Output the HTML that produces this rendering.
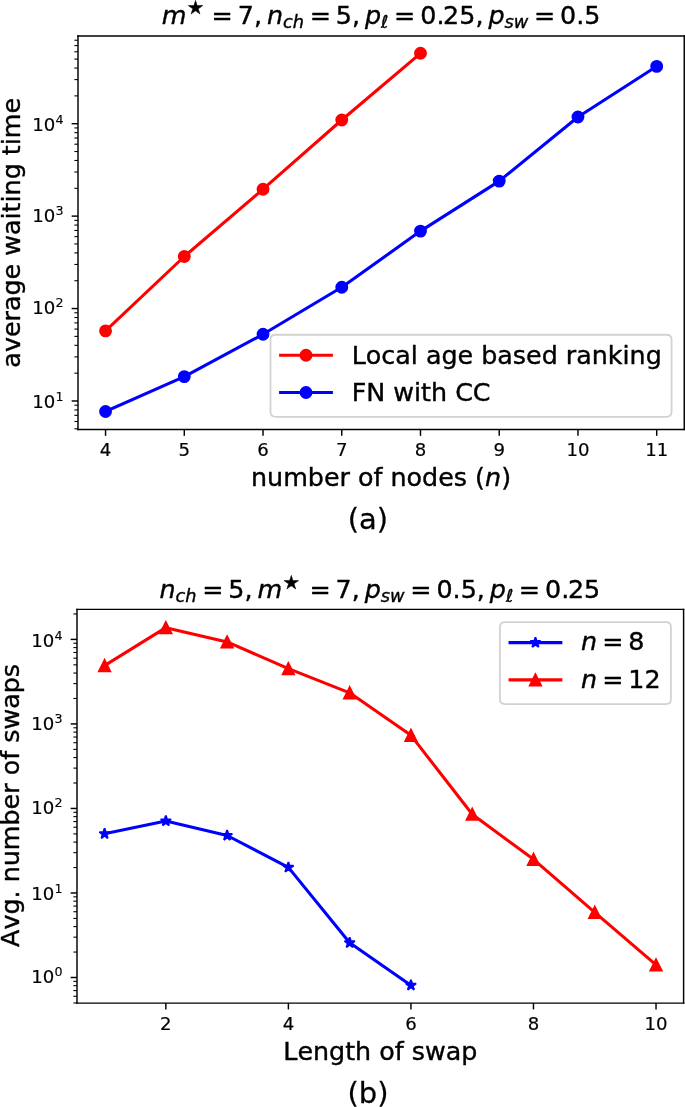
<!DOCTYPE html>
<html><head><meta charset="utf-8"><title>figure</title>
<style>html,body{margin:0;padding:0;background:#fff}svg{display:block}svg *{stroke-linejoin:round;stroke-linecap:butt}text{font-kerning:none;white-space:pre;stroke:#000;stroke-width:0.22px;stroke-linejoin:round}.t10,.t10 tspan{stroke-width:0.1px}.t7{stroke-width:0.07px}.t16{stroke-width:0.14px}</style>
</head><body>
<svg width="685" height="1107" viewBox="0 0 378.03532 610.927152">
<g id="figure_1">
<g id="patch_1">
<path d="M 0 610.927152 
L 378.03532 610.927152 
L 378.03532 0 
L 0 0 
z
" style="fill: #ffffff"/>
</g>
<g id="axes_1">
<g id="patch_2">
<path d="M 43.046358 237.030905 
L 377.621413 237.030905 
L 377.621413 19.895143 
L 43.046358 19.895143 
z
" style="fill: #ffffff"/>
</g>
<g id="matplotlib.axis_1">
<g id="xtick_1">
<g id="line2d_1">
<g>
<path d="M 0 0 L 0 3.5" transform="translate(58.254315 237.030905)" style="stroke: #000000; stroke-width: 0.8"/>
</g>
</g>
<g id="text_1">
<text class="t10" style="font-size: 10px; font-family: 'DejaVu Sans', sans-serif; text-anchor: middle" x="58.254315" y="251.629343">4</text>
</g>
</g>
<g id="xtick_2">
<g id="line2d_2">
<g>
<path d="M 0 0 L 0 3.5" transform="translate(101.705621 237.030905)" style="stroke: #000000; stroke-width: 0.8"/>
</g>
</g>
<g id="text_2">
<text class="t10" style="font-size: 10px; font-family: 'DejaVu Sans', sans-serif; text-anchor: middle" x="101.705621" y="251.629343">5</text>
</g>
</g>
<g id="xtick_3">
<g id="line2d_3">
<g>
<path d="M 0 0 L 0 3.5" transform="translate(145.156926 237.030905)" style="stroke: #000000; stroke-width: 0.8"/>
</g>
</g>
<g id="text_3">
<text class="t10" style="font-size: 10px; font-family: 'DejaVu Sans', sans-serif; text-anchor: middle" x="145.156926" y="251.629343">6</text>
</g>
</g>
<g id="xtick_4">
<g id="line2d_4">
<g>
<path d="M 0 0 L 0 3.5" transform="translate(188.608232 237.030905)" style="stroke: #000000; stroke-width: 0.8"/>
</g>
</g>
<g id="text_4">
<text class="t10" style="font-size: 10px; font-family: 'DejaVu Sans', sans-serif; text-anchor: middle" x="188.608232" y="251.629343">7</text>
</g>
</g>
<g id="xtick_5">
<g id="line2d_5">
<g>
<path d="M 0 0 L 0 3.5" transform="translate(232.059538 237.030905)" style="stroke: #000000; stroke-width: 0.8"/>
</g>
</g>
<g id="text_5">
<text class="t10" style="font-size: 10px; font-family: 'DejaVu Sans', sans-serif; text-anchor: middle" x="232.059538" y="251.629343">8</text>
</g>
</g>
<g id="xtick_6">
<g id="line2d_6">
<g>
<path d="M 0 0 L 0 3.5" transform="translate(275.510844 237.030905)" style="stroke: #000000; stroke-width: 0.8"/>
</g>
</g>
<g id="text_6">
<text class="t10" style="font-size: 10px; font-family: 'DejaVu Sans', sans-serif; text-anchor: middle" x="275.510844" y="251.629343">9</text>
</g>
</g>
<g id="xtick_7">
<g id="line2d_7">
<g>
<path d="M 0 0 L 0 3.5" transform="translate(318.96215 237.030905)" style="stroke: #000000; stroke-width: 0.8"/>
</g>
</g>
<g id="text_7">
<text class="t10" style="font-size: 10px; font-family: 'DejaVu Sans', sans-serif; text-anchor: middle" x="318.96215" y="251.629343">10</text>
</g>
</g>
<g id="xtick_8">
<g id="line2d_8">
<g>
<path d="M 0 0 L 0 3.5" transform="translate(362.413456 237.030905)" style="stroke: #000000; stroke-width: 0.8"/>
</g>
</g>
<g id="text_8">
<text class="t10" style="font-size: 10px; font-family: 'DejaVu Sans', sans-serif; text-anchor: middle" x="362.413456" y="251.629343">11</text>
</g>
</g>
<g id="text_9">
<g transform="translate(138.513885 268.346843)">
<text><tspan x="0.000" y="-0.359" style="font-size: 14px; font-family: 'DejaVu Sans', sans-serif">number of nodes (</tspan><tspan x="129.179" y="-0.359" style="font-style: oblique; font-size: 14px; font-family: 'DejaVu Sans', sans-serif">n</tspan><tspan x="138.052" y="-0.359" style="font-size: 14px; font-family: 'DejaVu Sans', sans-serif">)</tspan></text>
</g>
</g>
</g>
<g id="matplotlib.axis_2">
<g id="ytick_1">
<g id="line2d_9">
<g>
<path d="M 0 0 L -3.5 0" transform="translate(43.046358 221.296909)" style="stroke: #000000; stroke-width: 0.8"/>
</g>
</g>
<g id="text_10">
<g transform="translate(17.746358 225.426128)">
<text><tspan class="t10" x="0.000" y="-0.064" style="font-size: 10px; font-family: 'DejaVu Sans', sans-serif">10</tspan><tspan class="t7" x="12.820" y="-3.892" style="font-size: 7px; font-family: 'DejaVu Sans', sans-serif">1</tspan></text>
</g>
</g>
</g>
<g id="ytick_2">
<g id="line2d_10">
<g>
<path d="M 0 0 L -3.5 0" transform="translate(43.046358 170.286976)" style="stroke: #000000; stroke-width: 0.8"/>
</g>
</g>
<g id="text_11">
<g transform="translate(17.746358 174.416194)">
<text><tspan class="t10" x="0.000" y="-0.977" style="font-size: 10px; font-family: 'DejaVu Sans', sans-serif">10</tspan><tspan class="t7" x="12.820" y="-4.805" style="font-size: 7px; font-family: 'DejaVu Sans', sans-serif">2</tspan></text>
</g>
</g>
</g>
<g id="ytick_3">
<g id="line2d_11">
<g>
<path d="M 0 0 L -3.5 0" transform="translate(43.046358 119.277042)" style="stroke: #000000; stroke-width: 0.8"/>
</g>
</g>
<g id="text_12">
<g transform="translate(17.746358 123.406261)">
<text><tspan class="t10" x="0.000" y="-0.977" style="font-size: 10px; font-family: 'DejaVu Sans', sans-serif">10</tspan><tspan class="t7" x="12.820" y="-4.805" style="font-size: 7px; font-family: 'DejaVu Sans', sans-serif">3</tspan></text>
</g>
</g>
</g>
<g id="ytick_4">
<g id="line2d_12">
<g>
<path d="M 0 0 L -3.5 0" transform="translate(43.046358 68.267108)" style="stroke: #000000; stroke-width: 0.8"/>
</g>
</g>
<g id="text_13">
<g transform="translate(17.746358 72.396327)">
<text><tspan class="t10" x="0.000" y="-0.064" style="font-size: 10px; font-family: 'DejaVu Sans', sans-serif">10</tspan><tspan class="t7" x="12.820" y="-3.892" style="font-size: 7px; font-family: 'DejaVu Sans', sans-serif">4</tspan></text>
</g>
</g>
</g>
<g id="ytick_5">
<g id="line2d_13">
<g>
<path d="M 0 0 L -2 0" transform="translate(43.046358 236.65243)" style="stroke: #000000; stroke-width: 0.6"/>
</g>
</g>
</g>
<g id="ytick_6">
<g id="line2d_14">
<g>
<path d="M 0 0 L -2 0" transform="translate(43.046358 232.6134)" style="stroke: #000000; stroke-width: 0.6"/>
</g>
</g>
</g>
<g id="ytick_7">
<g id="line2d_15">
<g>
<path d="M 0 0 L -2 0" transform="translate(43.046358 229.198448)" style="stroke: #000000; stroke-width: 0.6"/>
</g>
</g>
</g>
<g id="ytick_8">
<g id="line2d_16">
<g>
<path d="M 0 0 L -2 0" transform="translate(43.046358 226.240283)" style="stroke: #000000; stroke-width: 0.6"/>
</g>
</g>
</g>
<g id="ytick_9">
<g id="line2d_17">
<g>
<path d="M 0 0 L -2 0" transform="translate(43.046358 223.630996)" style="stroke: #000000; stroke-width: 0.6"/>
</g>
</g>
</g>
<g id="ytick_10">
<g id="line2d_18">
<g>
<path d="M 0 0 L -2 0" transform="translate(43.046358 205.941389)" style="stroke: #000000; stroke-width: 0.6"/>
</g>
</g>
</g>
<g id="ytick_11">
<g id="line2d_19">
<g>
<path d="M 0 0 L -2 0" transform="translate(43.046358 196.958986)" style="stroke: #000000; stroke-width: 0.6"/>
</g>
</g>
</g>
<g id="ytick_12">
<g id="line2d_20">
<g>
<path d="M 0 0 L -2 0" transform="translate(43.046358 190.585869)" style="stroke: #000000; stroke-width: 0.6"/>
</g>
</g>
</g>
<g id="ytick_13">
<g id="line2d_21">
<g>
<path d="M 0 0 L -2 0" transform="translate(43.046358 185.642496)" style="stroke: #000000; stroke-width: 0.6"/>
</g>
</g>
</g>
<g id="ytick_14">
<g id="line2d_22">
<g>
<path d="M 0 0 L -2 0" transform="translate(43.046358 181.603466)" style="stroke: #000000; stroke-width: 0.6"/>
</g>
</g>
</g>
<g id="ytick_15">
<g id="line2d_23">
<g>
<path d="M 0 0 L -2 0" transform="translate(43.046358 178.188514)" style="stroke: #000000; stroke-width: 0.6"/>
</g>
</g>
</g>
<g id="ytick_16">
<g id="line2d_24">
<g>
<path d="M 0 0 L -2 0" transform="translate(43.046358 175.230349)" style="stroke: #000000; stroke-width: 0.6"/>
</g>
</g>
</g>
<g id="ytick_17">
<g id="line2d_25">
<g>
<path d="M 0 0 L -2 0" transform="translate(43.046358 172.621062)" style="stroke: #000000; stroke-width: 0.6"/>
</g>
</g>
</g>
<g id="ytick_18">
<g id="line2d_26">
<g>
<path d="M 0 0 L -2 0" transform="translate(43.046358 154.931456)" style="stroke: #000000; stroke-width: 0.6"/>
</g>
</g>
</g>
<g id="ytick_19">
<g id="line2d_27">
<g>
<path d="M 0 0 L -2 0" transform="translate(43.046358 145.949052)" style="stroke: #000000; stroke-width: 0.6"/>
</g>
</g>
</g>
<g id="ytick_20">
<g id="line2d_28">
<g>
<path d="M 0 0 L -2 0" transform="translate(43.046358 139.575935)" style="stroke: #000000; stroke-width: 0.6"/>
</g>
</g>
</g>
<g id="ytick_21">
<g id="line2d_29">
<g>
<path d="M 0 0 L -2 0" transform="translate(43.046358 134.632562)" style="stroke: #000000; stroke-width: 0.6"/>
</g>
</g>
</g>
<g id="ytick_22">
<g id="line2d_30">
<g>
<path d="M 0 0 L -2 0" transform="translate(43.046358 130.593532)" style="stroke: #000000; stroke-width: 0.6"/>
</g>
</g>
</g>
<g id="ytick_23">
<g id="line2d_31">
<g>
<path d="M 0 0 L -2 0" transform="translate(43.046358 127.178581)" style="stroke: #000000; stroke-width: 0.6"/>
</g>
</g>
</g>
<g id="ytick_24">
<g id="line2d_32">
<g>
<path d="M 0 0 L -2 0" transform="translate(43.046358 124.220415)" style="stroke: #000000; stroke-width: 0.6"/>
</g>
</g>
</g>
<g id="ytick_25">
<g id="line2d_33">
<g>
<path d="M 0 0 L -2 0" transform="translate(43.046358 121.611129)" style="stroke: #000000; stroke-width: 0.6"/>
</g>
</g>
</g>
<g id="ytick_26">
<g id="line2d_34">
<g>
<path d="M 0 0 L -2 0" transform="translate(43.046358 103.921522)" style="stroke: #000000; stroke-width: 0.6"/>
</g>
</g>
</g>
<g id="ytick_27">
<g id="line2d_35">
<g>
<path d="M 0 0 L -2 0" transform="translate(43.046358 94.939118)" style="stroke: #000000; stroke-width: 0.6"/>
</g>
</g>
</g>
<g id="ytick_28">
<g id="line2d_36">
<g>
<path d="M 0 0 L -2 0" transform="translate(43.046358 88.566002)" style="stroke: #000000; stroke-width: 0.6"/>
</g>
</g>
</g>
<g id="ytick_29">
<g id="line2d_37">
<g>
<path d="M 0 0 L -2 0" transform="translate(43.046358 83.622628)" style="stroke: #000000; stroke-width: 0.6"/>
</g>
</g>
</g>
<g id="ytick_30">
<g id="line2d_38">
<g>
<path d="M 0 0 L -2 0" transform="translate(43.046358 79.583598)" style="stroke: #000000; stroke-width: 0.6"/>
</g>
</g>
</g>
<g id="ytick_31">
<g id="line2d_39">
<g>
<path d="M 0 0 L -2 0" transform="translate(43.046358 76.168647)" style="stroke: #000000; stroke-width: 0.6"/>
</g>
</g>
</g>
<g id="ytick_32">
<g id="line2d_40">
<g>
<path d="M 0 0 L -2 0" transform="translate(43.046358 73.210482)" style="stroke: #000000; stroke-width: 0.6"/>
</g>
</g>
</g>
<g id="ytick_33">
<g id="line2d_41">
<g>
<path d="M 0 0 L -2 0" transform="translate(43.046358 70.601195)" style="stroke: #000000; stroke-width: 0.6"/>
</g>
</g>
</g>
<g id="ytick_34">
<g id="line2d_42">
<g>
<path d="M 0 0 L -2 0" transform="translate(43.046358 52.911588)" style="stroke: #000000; stroke-width: 0.6"/>
</g>
</g>
</g>
<g id="ytick_35">
<g id="line2d_43">
<g>
<path d="M 0 0 L -2 0" transform="translate(43.046358 43.929185)" style="stroke: #000000; stroke-width: 0.6"/>
</g>
</g>
</g>
<g id="ytick_36">
<g id="line2d_44">
<g>
<path d="M 0 0 L -2 0" transform="translate(43.046358 37.556068)" style="stroke: #000000; stroke-width: 0.6"/>
</g>
</g>
</g>
<g id="ytick_37">
<g id="line2d_45">
<g>
<path d="M 0 0 L -2 0" transform="translate(43.046358 32.612695)" style="stroke: #000000; stroke-width: 0.6"/>
</g>
</g>
</g>
<g id="ytick_38">
<g id="line2d_46">
<g>
<path d="M 0 0 L -2 0" transform="translate(43.046358 28.573664)" style="stroke: #000000; stroke-width: 0.6"/>
</g>
</g>
</g>
<g id="ytick_39">
<g id="line2d_47">
<g>
<path d="M 0 0 L -2 0" transform="translate(43.046358 25.158713)" style="stroke: #000000; stroke-width: 0.6"/>
</g>
</g>
</g>
<g id="ytick_40">
<g id="line2d_48">
<g>
<path d="M 0 0 L -2 0" transform="translate(43.046358 22.200548)" style="stroke: #000000; stroke-width: 0.6"/>
</g>
</g>
</g>
<g id="text_14">
<text style="font-size: 14px; font-family: 'DejaVu Sans', sans-serif; text-anchor: middle" x="10.834795" y="128.463024" transform="rotate(-90 10.834795 128.463024)">average waiting time</text>
</g>
</g>
<g id="line2d_49">
<path d="M 58.254315 182.615894 
L 101.705621 141.556291 
L 145.156926 104.415011 
L 188.608232 66.225166 
L 232.059538 29.415011 
" style="fill: none; stroke: #ff0000; stroke-width: 1.7; stroke-linecap: square"/>
<g>
<path d="M 0 3.05 C 0.808869 3.05 1.584719 2.728633 2.156676 2.156676 C 2.728633 1.584719 3.05 0.808869 3.05 0 C 3.05 -0.808869 2.728633 -1.584719 2.156676 -2.156676 C 1.584719 -2.728633 0.808869 -3.05 0 -3.05 C -0.808869 -3.05 -1.584719 -2.728633 -2.156676 -2.156676 C -2.728633 -1.584719 -3.05 -0.808869 -3.05 0 C -3.05 0.808869 -2.728633 1.584719 -2.156676 2.156676 C -1.584719 2.728633 -0.808869 3.05 0 3.05 z" transform="translate(58.254315 182.615894)" style="fill: #ff0000; stroke: #ff0000"/>
<path d="M 0 3.05 C 0.808869 3.05 1.584719 2.728633 2.156676 2.156676 C 2.728633 1.584719 3.05 0.808869 3.05 0 C 3.05 -0.808869 2.728633 -1.584719 2.156676 -2.156676 C 1.584719 -2.728633 0.808869 -3.05 0 -3.05 C -0.808869 -3.05 -1.584719 -2.728633 -2.156676 -2.156676 C -2.728633 -1.584719 -3.05 -0.808869 -3.05 0 C -3.05 0.808869 -2.728633 1.584719 -2.156676 2.156676 C -1.584719 2.728633 -0.808869 3.05 0 3.05 z" transform="translate(101.705621 141.556291)" style="fill: #ff0000; stroke: #ff0000"/>
<path d="M 0 3.05 C 0.808869 3.05 1.584719 2.728633 2.156676 2.156676 C 2.728633 1.584719 3.05 0.808869 3.05 0 C 3.05 -0.808869 2.728633 -1.584719 2.156676 -2.156676 C 1.584719 -2.728633 0.808869 -3.05 0 -3.05 C -0.808869 -3.05 -1.584719 -2.728633 -2.156676 -2.156676 C -2.728633 -1.584719 -3.05 -0.808869 -3.05 0 C -3.05 0.808869 -2.728633 1.584719 -2.156676 2.156676 C -1.584719 2.728633 -0.808869 3.05 0 3.05 z" transform="translate(145.156926 104.415011)" style="fill: #ff0000; stroke: #ff0000"/>
<path d="M 0 3.05 C 0.808869 3.05 1.584719 2.728633 2.156676 2.156676 C 2.728633 1.584719 3.05 0.808869 3.05 0 C 3.05 -0.808869 2.728633 -1.584719 2.156676 -2.156676 C 1.584719 -2.728633 0.808869 -3.05 0 -3.05 C -0.808869 -3.05 -1.584719 -2.728633 -2.156676 -2.156676 C -2.728633 -1.584719 -3.05 -0.808869 -3.05 0 C -3.05 0.808869 -2.728633 1.584719 -2.156676 2.156676 C -1.584719 2.728633 -0.808869 3.05 0 3.05 z" transform="translate(188.608232 66.225166)" style="fill: #ff0000; stroke: #ff0000"/>
<path d="M 0 3.05 C 0.808869 3.05 1.584719 2.728633 2.156676 2.156676 C 2.728633 1.584719 3.05 0.808869 3.05 0 C 3.05 -0.808869 2.728633 -1.584719 2.156676 -2.156676 C 1.584719 -2.728633 0.808869 -3.05 0 -3.05 C -0.808869 -3.05 -1.584719 -2.728633 -2.156676 -2.156676 C -2.728633 -1.584719 -3.05 -0.808869 -3.05 0 C -3.05 0.808869 -2.728633 1.584719 -2.156676 2.156676 C -1.584719 2.728633 -0.808869 3.05 0 3.05 z" transform="translate(232.059538 29.415011)" style="fill: #ff0000; stroke: #ff0000"/>
</g>
</g>
<g id="line2d_50">
<path d="M 58.254315 227.09713 
L 101.705621 207.836645 
L 145.156926 184.492274 
L 188.608232 158.554084 
L 232.059538 127.538631 
L 275.510844 99.944812 
L 318.96215 64.569536 
L 362.413456 36.644592 
" style="fill: none; stroke: #0000ff; stroke-width: 1.7; stroke-linecap: square"/>
<g>
<path d="M 0 3.05 C 0.808869 3.05 1.584719 2.728633 2.156676 2.156676 C 2.728633 1.584719 3.05 0.808869 3.05 0 C 3.05 -0.808869 2.728633 -1.584719 2.156676 -2.156676 C 1.584719 -2.728633 0.808869 -3.05 0 -3.05 C -0.808869 -3.05 -1.584719 -2.728633 -2.156676 -2.156676 C -2.728633 -1.584719 -3.05 -0.808869 -3.05 0 C -3.05 0.808869 -2.728633 1.584719 -2.156676 2.156676 C -1.584719 2.728633 -0.808869 3.05 0 3.05 z" transform="translate(58.254315 227.09713)" style="fill: #0000ff; stroke: #0000ff"/>
<path d="M 0 3.05 C 0.808869 3.05 1.584719 2.728633 2.156676 2.156676 C 2.728633 1.584719 3.05 0.808869 3.05 0 C 3.05 -0.808869 2.728633 -1.584719 2.156676 -2.156676 C 1.584719 -2.728633 0.808869 -3.05 0 -3.05 C -0.808869 -3.05 -1.584719 -2.728633 -2.156676 -2.156676 C -2.728633 -1.584719 -3.05 -0.808869 -3.05 0 C -3.05 0.808869 -2.728633 1.584719 -2.156676 2.156676 C -1.584719 2.728633 -0.808869 3.05 0 3.05 z" transform="translate(101.705621 207.836645)" style="fill: #0000ff; stroke: #0000ff"/>
<path d="M 0 3.05 C 0.808869 3.05 1.584719 2.728633 2.156676 2.156676 C 2.728633 1.584719 3.05 0.808869 3.05 0 C 3.05 -0.808869 2.728633 -1.584719 2.156676 -2.156676 C 1.584719 -2.728633 0.808869 -3.05 0 -3.05 C -0.808869 -3.05 -1.584719 -2.728633 -2.156676 -2.156676 C -2.728633 -1.584719 -3.05 -0.808869 -3.05 0 C -3.05 0.808869 -2.728633 1.584719 -2.156676 2.156676 C -1.584719 2.728633 -0.808869 3.05 0 3.05 z" transform="translate(145.156926 184.492274)" style="fill: #0000ff; stroke: #0000ff"/>
<path d="M 0 3.05 C 0.808869 3.05 1.584719 2.728633 2.156676 2.156676 C 2.728633 1.584719 3.05 0.808869 3.05 0 C 3.05 -0.808869 2.728633 -1.584719 2.156676 -2.156676 C 1.584719 -2.728633 0.808869 -3.05 0 -3.05 C -0.808869 -3.05 -1.584719 -2.728633 -2.156676 -2.156676 C -2.728633 -1.584719 -3.05 -0.808869 -3.05 0 C -3.05 0.808869 -2.728633 1.584719 -2.156676 2.156676 C -1.584719 2.728633 -0.808869 3.05 0 3.05 z" transform="translate(188.608232 158.554084)" style="fill: #0000ff; stroke: #0000ff"/>
<path d="M 0 3.05 C 0.808869 3.05 1.584719 2.728633 2.156676 2.156676 C 2.728633 1.584719 3.05 0.808869 3.05 0 C 3.05 -0.808869 2.728633 -1.584719 2.156676 -2.156676 C 1.584719 -2.728633 0.808869 -3.05 0 -3.05 C -0.808869 -3.05 -1.584719 -2.728633 -2.156676 -2.156676 C -2.728633 -1.584719 -3.05 -0.808869 -3.05 0 C -3.05 0.808869 -2.728633 1.584719 -2.156676 2.156676 C -1.584719 2.728633 -0.808869 3.05 0 3.05 z" transform="translate(232.059538 127.538631)" style="fill: #0000ff; stroke: #0000ff"/>
<path d="M 0 3.05 C 0.808869 3.05 1.584719 2.728633 2.156676 2.156676 C 2.728633 1.584719 3.05 0.808869 3.05 0 C 3.05 -0.808869 2.728633 -1.584719 2.156676 -2.156676 C 1.584719 -2.728633 0.808869 -3.05 0 -3.05 C -0.808869 -3.05 -1.584719 -2.728633 -2.156676 -2.156676 C -2.728633 -1.584719 -3.05 -0.808869 -3.05 0 C -3.05 0.808869 -2.728633 1.584719 -2.156676 2.156676 C -1.584719 2.728633 -0.808869 3.05 0 3.05 z" transform="translate(275.510844 99.944812)" style="fill: #0000ff; stroke: #0000ff"/>
<path d="M 0 3.05 C 0.808869 3.05 1.584719 2.728633 2.156676 2.156676 C 2.728633 1.584719 3.05 0.808869 3.05 0 C 3.05 -0.808869 2.728633 -1.584719 2.156676 -2.156676 C 1.584719 -2.728633 0.808869 -3.05 0 -3.05 C -0.808869 -3.05 -1.584719 -2.728633 -2.156676 -2.156676 C -2.728633 -1.584719 -3.05 -0.808869 -3.05 0 C -3.05 0.808869 -2.728633 1.584719 -2.156676 2.156676 C -1.584719 2.728633 -0.808869 3.05 0 3.05 z" transform="translate(318.96215 64.569536)" style="fill: #0000ff; stroke: #0000ff"/>
<path d="M 0 3.05 C 0.808869 3.05 1.584719 2.728633 2.156676 2.156676 C 2.728633 1.584719 3.05 0.808869 3.05 0 C 3.05 -0.808869 2.728633 -1.584719 2.156676 -2.156676 C 1.584719 -2.728633 0.808869 -3.05 0 -3.05 C -0.808869 -3.05 -1.584719 -2.728633 -2.156676 -2.156676 C -2.728633 -1.584719 -3.05 -0.808869 -3.05 0 C -3.05 0.808869 -2.728633 1.584719 -2.156676 2.156676 C -1.584719 2.728633 -0.808869 3.05 0 3.05 z" transform="translate(362.413456 36.644592)" style="fill: #0000ff; stroke: #0000ff"/>
</g>
</g>
<g id="patch_3">
<path d="M 43.046358 237.030905 
L 43.046358 19.895143 
" style="fill: none; stroke: #000000; stroke-width: 0.8; stroke-linejoin: miter; stroke-linecap: square"/>
</g>
<g id="patch_4">
<path d="M 377.621413 237.030905 
L 377.621413 19.895143 
" style="fill: none; stroke: #000000; stroke-width: 0.8; stroke-linejoin: miter; stroke-linecap: square"/>
</g>
<g id="patch_5">
<path d="M 43.046358 237.030905 
L 377.621413 237.030905 
" style="fill: none; stroke: #000000; stroke-width: 0.8; stroke-linejoin: miter; stroke-linecap: square"/>
</g>
<g id="patch_6">
<path d="M 43.046358 19.895143 
L 377.621413 19.895143 
" style="fill: none; stroke: #000000; stroke-width: 0.8; stroke-linejoin: miter; stroke-linecap: square"/>
</g>
<g id="text_15">
<g transform="translate(89.933885 13.895143)">
<text><tspan x="-0.655" y="-0.553" style="font-style: oblique; font-size: 14px; font-family: 'DejaVu Sans', sans-serif">m</tspan><tspan x="13.334" y="-6.112" style="font-size: 10.5px; font-family: 'DejaVu Sans', sans-serif">★</tspan><tspan x="26.840" y="-0.553" style="font-size: 14px; font-family: 'DejaVu Sans', sans-serif">=</tspan><tspan x="41.298" y="-0.553" style="font-size: 14px; font-family: 'DejaVu Sans', sans-serif">7,</tspan><tspan x="57.383" y="-0.553" style="font-style: oblique; font-size: 14px; font-family: 'DejaVu Sans', sans-serif">n</tspan><tspan x="66.256" y="1.744" style="font-style: oblique; font-size: 9.8px; font-family: 'DejaVu Sans', sans-serif">ch</tspan><tspan x="80.966" y="-0.553" style="font-size: 14px; font-family: 'DejaVu Sans', sans-serif">=</tspan><tspan x="95.424" y="-0.553" style="font-size: 14px; font-family: 'DejaVu Sans', sans-serif">5,</tspan><tspan x="111.509" y="-0.553" style="font-style: oblique; font-size: 14px; font-family: 'DejaVu Sans', sans-serif">p</tspan><tspan x="120.395" y="1.744" style="font-style: oblique; font-size: 9.8px; font-family: 'DejaVu Sans', sans-serif">ℓ</tspan><tspan x="127.554" y="-0.553" style="font-size: 14px; font-family: 'DejaVu Sans', sans-serif">=</tspan><tspan x="142.012" y="-0.553" style="font-size: 14px; font-family: 'DejaVu Sans', sans-serif">0.</tspan><tspan x="154.619" y="-0.553" style="font-size: 14px; font-family: 'DejaVu Sans', sans-serif">25,</tspan><tspan x="179.612" y="-0.553" style="font-style: oblique; font-size: 14px; font-family: 'DejaVu Sans', sans-serif">p</tspan><tspan x="188.498" y="1.744" style="font-style: oblique; font-size: 9.8px; font-family: 'DejaVu Sans', sans-serif">sw</tspan><tspan x="204.730" y="-0.553" style="font-size: 14px; font-family: 'DejaVu Sans', sans-serif">=</tspan><tspan x="219.188" y="-0.553" style="font-size: 14px; font-family: 'DejaVu Sans', sans-serif">0.5</tspan></text>
</g>
</g>
<g id="legend_1">
<g id="patch_7">
<path d="M 152.077038 230.030905 
L 367.821413 230.030905 
Q 370.621413 230.030905 370.621413 227.230905 
L 370.621413 187.532155 
Q 370.621413 184.732155 367.821413 184.732155 
L 152.077038 184.732155 
Q 149.277038 184.732155 149.277038 187.532155 
L 149.277038 227.230905 
Q 149.277038 230.030905 152.077038 230.030905 
z
" style="fill: #ffffff; stroke: #d2d2d2; stroke-linejoin: miter"/>
</g>
<g id="line2d_51">
<path d="M 154.877038 196.069968 
L 168.877038 196.069968 
L 182.877038 196.069968 
" style="fill: none; stroke: #ff0000; stroke-width: 1.7; stroke-linecap: square"/>
<g>
<path d="M 0 3.05 C 0.808869 3.05 1.584719 2.728633 2.156676 2.156676 C 2.728633 1.584719 3.05 0.808869 3.05 0 C 3.05 -0.808869 2.728633 -1.584719 2.156676 -2.156676 C 1.584719 -2.728633 0.808869 -3.05 0 -3.05 C -0.808869 -3.05 -1.584719 -2.728633 -2.156676 -2.156676 C -2.728633 -1.584719 -3.05 -0.808869 -3.05 0 C -3.05 0.808869 -2.728633 1.584719 -2.156676 2.156676 C -1.584719 2.728633 -0.808869 3.05 0 3.05 z" transform="translate(168.877038 196.069968)" style="fill: #ff0000; stroke: #ff0000"/>
</g>
</g>
<g id="text_16">
<text style="font-size: 14px; font-family: 'DejaVu Sans', sans-serif; text-anchor: start" x="194.077038" y="200.969968">Local age based ranking</text>
</g>
<g id="line2d_52">
<path d="M 154.877038 216.619343 
L 168.877038 216.619343 
L 182.877038 216.619343 
" style="fill: none; stroke: #0000ff; stroke-width: 1.7; stroke-linecap: square"/>
<g>
<path d="M 0 3.05 C 0.808869 3.05 1.584719 2.728633 2.156676 2.156676 C 2.728633 1.584719 3.05 0.808869 3.05 0 C 3.05 -0.808869 2.728633 -1.584719 2.156676 -2.156676 C 1.584719 -2.728633 0.808869 -3.05 0 -3.05 C -0.808869 -3.05 -1.584719 -2.728633 -2.156676 -2.156676 C -2.728633 -1.584719 -3.05 -0.808869 -3.05 0 C -3.05 0.808869 -2.728633 1.584719 -2.156676 2.156676 C -1.584719 2.728633 -0.808869 3.05 0 3.05 z" transform="translate(168.877038 216.619343)" style="fill: #0000ff; stroke: #0000ff"/>
</g>
</g>
<g id="text_17">
<text style="font-size: 14px; font-family: 'DejaVu Sans', sans-serif; text-anchor: start" x="194.077038" y="221.519343">FN with CC</text>
</g>
</g>
</g>
<g id="axes_2">
<g id="patch_8">
<path d="M 42.494481 553.587196 
L 377.262693 553.587196 
L 377.262693 336.313466 
L 42.494481 336.313466 
z
" style="fill: #ffffff"/>
</g>
<g id="matplotlib.axis_3">
<g id="xtick_9">
<g id="line2d_53">
<g>
<path d="M 0 0 L 0 3.5" transform="translate(91.526189 553.587196)" style="stroke: #000000; stroke-width: 0.8"/>
</g>
</g>
<g id="text_18">
<text class="t10" style="font-size: 10px; font-family: 'DejaVu Sans', sans-serif; text-anchor: middle" x="91.526189" y="568.185634">2</text>
</g>
</g>
<g id="xtick_10">
<g id="line2d_54">
<g>
<path d="M 0 0 L 0 3.5" transform="translate(159.156131 553.587196)" style="stroke: #000000; stroke-width: 0.8"/>
</g>
</g>
<g id="text_19">
<text class="t10" style="font-size: 10px; font-family: 'DejaVu Sans', sans-serif; text-anchor: middle" x="159.156131" y="568.185634">4</text>
</g>
</g>
<g id="xtick_11">
<g id="line2d_55">
<g>
<path d="M 0 0 L 0 3.5" transform="translate(226.786073 553.587196)" style="stroke: #000000; stroke-width: 0.8"/>
</g>
</g>
<g id="text_20">
<text class="t10" style="font-size: 10px; font-family: 'DejaVu Sans', sans-serif; text-anchor: middle" x="226.786073" y="568.185634">6</text>
</g>
</g>
<g id="xtick_12">
<g id="line2d_56">
<g>
<path d="M 0 0 L 0 3.5" transform="translate(294.416014 553.587196)" style="stroke: #000000; stroke-width: 0.8"/>
</g>
</g>
<g id="text_21">
<text class="t10" style="font-size: 10px; font-family: 'DejaVu Sans', sans-serif; text-anchor: middle" x="294.416014" y="568.185634">8</text>
</g>
</g>
<g id="xtick_13">
<g id="line2d_57">
<g>
<path d="M 0 0 L 0 3.5" transform="translate(362.045956 553.587196)" style="stroke: #000000; stroke-width: 0.8"/>
</g>
</g>
<g id="text_22">
<text class="t10" style="font-size: 10px; font-family: 'DejaVu Sans', sans-serif; text-anchor: middle" x="362.045956" y="568.185634">10</text>
</g>
</g>
<g id="text_23">
<text style="font-size: 14px; font-family: 'DejaVu Sans', sans-serif; text-anchor: middle" x="209.878587" y="584.903134">Length of swap</text>
</g>
</g>
<g id="matplotlib.axis_4">
<g id="ytick_41">
<g id="line2d_58">
<g>
<path d="M 0 0 L -3.5 0" transform="translate(42.494481 539.459161)" style="stroke: #000000; stroke-width: 0.8"/>
</g>
</g>
<g id="text_24">
<g transform="translate(17.194481 543.588380)">
<text><tspan class="t10" x="0.000" y="-0.977" style="font-size: 10px; font-family: 'DejaVu Sans', sans-serif">10</tspan><tspan class="t7" x="12.820" y="-4.805" style="font-size: 7px; font-family: 'DejaVu Sans', sans-serif">0</tspan></text>
</g>
</g>
</g>
<g id="ytick_42">
<g id="line2d_59">
<g>
<path d="M 0 0 L -3.5 0" transform="translate(42.494481 492.81181)" style="stroke: #000000; stroke-width: 0.8"/>
</g>
</g>
<g id="text_25">
<g transform="translate(17.194481 496.941029)">
<text><tspan class="t10" x="0.000" y="-0.064" style="font-size: 10px; font-family: 'DejaVu Sans', sans-serif">10</tspan><tspan class="t7" x="12.820" y="-3.892" style="font-size: 7px; font-family: 'DejaVu Sans', sans-serif">1</tspan></text>
</g>
</g>
</g>
<g id="ytick_43">
<g id="line2d_60">
<g>
<path d="M 0 0 L -3.5 0" transform="translate(42.494481 446.164459)" style="stroke: #000000; stroke-width: 0.8"/>
</g>
</g>
<g id="text_26">
<g transform="translate(17.194481 450.293678)">
<text><tspan class="t10" x="0.000" y="-0.977" style="font-size: 10px; font-family: 'DejaVu Sans', sans-serif">10</tspan><tspan class="t7" x="12.820" y="-4.805" style="font-size: 7px; font-family: 'DejaVu Sans', sans-serif">2</tspan></text>
</g>
</g>
</g>
<g id="ytick_44">
<g id="line2d_61">
<g>
<path d="M 0 0 L -3.5 0" transform="translate(42.494481 399.517108)" style="stroke: #000000; stroke-width: 0.8"/>
</g>
</g>
<g id="text_27">
<g transform="translate(17.194481 403.646327)">
<text><tspan class="t10" x="0.000" y="-0.977" style="font-size: 10px; font-family: 'DejaVu Sans', sans-serif">10</tspan><tspan class="t7" x="12.820" y="-4.805" style="font-size: 7px; font-family: 'DejaVu Sans', sans-serif">3</tspan></text>
</g>
</g>
</g>
<g id="ytick_45">
<g id="line2d_62">
<g>
<path d="M 0 0 L -3.5 0" transform="translate(42.494481 352.869757)" style="stroke: #000000; stroke-width: 0.8"/>
</g>
</g>
<g id="text_28">
<g transform="translate(17.194481 356.998976)">
<text><tspan class="t10" x="0.000" y="-0.064" style="font-size: 10px; font-family: 'DejaVu Sans', sans-serif">10</tspan><tspan class="t7" x="12.820" y="-3.892" style="font-size: 7px; font-family: 'DejaVu Sans', sans-serif">4</tspan></text>
</g>
</g>
</g>
<g id="ytick_46">
<g id="line2d_63">
<g>
<path d="M 0 0 L -2 0" transform="translate(42.494481 553.501413)" style="stroke: #000000; stroke-width: 0.6"/>
</g>
</g>
</g>
<g id="ytick_47">
<g id="line2d_64">
<g>
<path d="M 0 0 L -2 0" transform="translate(42.494481 549.807818)" style="stroke: #000000; stroke-width: 0.6"/>
</g>
</g>
</g>
<g id="ytick_48">
<g id="line2d_65">
<g>
<path d="M 0 0 L -2 0" transform="translate(42.494481 546.684927)" style="stroke: #000000; stroke-width: 0.6"/>
</g>
</g>
</g>
<g id="ytick_49">
<g id="line2d_66">
<g>
<path d="M 0 0 L -2 0" transform="translate(42.494481 543.979757)" style="stroke: #000000; stroke-width: 0.6"/>
</g>
</g>
</g>
<g id="ytick_50">
<g id="line2d_67">
<g>
<path d="M 0 0 L -2 0" transform="translate(42.494481 541.593627)" style="stroke: #000000; stroke-width: 0.6"/>
</g>
</g>
</g>
<g id="ytick_51">
<g id="line2d_68">
<g>
<path d="M 0 0 L -2 0" transform="translate(42.494481 525.416909)" style="stroke: #000000; stroke-width: 0.6"/>
</g>
</g>
</g>
<g id="ytick_52">
<g id="line2d_69">
<g>
<path d="M 0 0 L -2 0" transform="translate(42.494481 517.202719)" style="stroke: #000000; stroke-width: 0.6"/>
</g>
</g>
</g>
<g id="ytick_53">
<g id="line2d_70">
<g>
<path d="M 0 0 L -2 0" transform="translate(42.494481 511.374657)" style="stroke: #000000; stroke-width: 0.6"/>
</g>
</g>
</g>
<g id="ytick_54">
<g id="line2d_71">
<g>
<path d="M 0 0 L -2 0" transform="translate(42.494481 506.854062)" style="stroke: #000000; stroke-width: 0.6"/>
</g>
</g>
</g>
<g id="ytick_55">
<g id="line2d_72">
<g>
<path d="M 0 0 L -2 0" transform="translate(42.494481 503.160467)" style="stroke: #000000; stroke-width: 0.6"/>
</g>
</g>
</g>
<g id="ytick_56">
<g id="line2d_73">
<g>
<path d="M 0 0 L -2 0" transform="translate(42.494481 500.037576)" style="stroke: #000000; stroke-width: 0.6"/>
</g>
</g>
</g>
<g id="ytick_57">
<g id="line2d_74">
<g>
<path d="M 0 0 L -2 0" transform="translate(42.494481 497.332406)" style="stroke: #000000; stroke-width: 0.6"/>
</g>
</g>
</g>
<g id="ytick_58">
<g id="line2d_75">
<g>
<path d="M 0 0 L -2 0" transform="translate(42.494481 494.946276)" style="stroke: #000000; stroke-width: 0.6"/>
</g>
</g>
</g>
<g id="ytick_59">
<g id="line2d_76">
<g>
<path d="M 0 0 L -2 0" transform="translate(42.494481 478.769558)" style="stroke: #000000; stroke-width: 0.6"/>
</g>
</g>
</g>
<g id="ytick_60">
<g id="line2d_77">
<g>
<path d="M 0 0 L -2 0" transform="translate(42.494481 470.555368)" style="stroke: #000000; stroke-width: 0.6"/>
</g>
</g>
</g>
<g id="ytick_61">
<g id="line2d_78">
<g>
<path d="M 0 0 L -2 0" transform="translate(42.494481 464.727306)" style="stroke: #000000; stroke-width: 0.6"/>
</g>
</g>
</g>
<g id="ytick_62">
<g id="line2d_79">
<g>
<path d="M 0 0 L -2 0" transform="translate(42.494481 460.206711)" style="stroke: #000000; stroke-width: 0.6"/>
</g>
</g>
</g>
<g id="ytick_63">
<g id="line2d_80">
<g>
<path d="M 0 0 L -2 0" transform="translate(42.494481 456.513116)" style="stroke: #000000; stroke-width: 0.6"/>
</g>
</g>
</g>
<g id="ytick_64">
<g id="line2d_81">
<g>
<path d="M 0 0 L -2 0" transform="translate(42.494481 453.390225)" style="stroke: #000000; stroke-width: 0.6"/>
</g>
</g>
</g>
<g id="ytick_65">
<g id="line2d_82">
<g>
<path d="M 0 0 L -2 0" transform="translate(42.494481 450.685055)" style="stroke: #000000; stroke-width: 0.6"/>
</g>
</g>
</g>
<g id="ytick_66">
<g id="line2d_83">
<g>
<path d="M 0 0 L -2 0" transform="translate(42.494481 448.298925)" style="stroke: #000000; stroke-width: 0.6"/>
</g>
</g>
</g>
<g id="ytick_67">
<g id="line2d_84">
<g>
<path d="M 0 0 L -2 0" transform="translate(42.494481 432.122207)" style="stroke: #000000; stroke-width: 0.6"/>
</g>
</g>
</g>
<g id="ytick_68">
<g id="line2d_85">
<g>
<path d="M 0 0 L -2 0" transform="translate(42.494481 423.908017)" style="stroke: #000000; stroke-width: 0.6"/>
</g>
</g>
</g>
<g id="ytick_69">
<g id="line2d_86">
<g>
<path d="M 0 0 L -2 0" transform="translate(42.494481 418.079955)" style="stroke: #000000; stroke-width: 0.6"/>
</g>
</g>
</g>
<g id="ytick_70">
<g id="line2d_87">
<g>
<path d="M 0 0 L -2 0" transform="translate(42.494481 413.55936)" style="stroke: #000000; stroke-width: 0.6"/>
</g>
</g>
</g>
<g id="ytick_71">
<g id="line2d_88">
<g>
<path d="M 0 0 L -2 0" transform="translate(42.494481 409.865765)" style="stroke: #000000; stroke-width: 0.6"/>
</g>
</g>
</g>
<g id="ytick_72">
<g id="line2d_89">
<g>
<path d="M 0 0 L -2 0" transform="translate(42.494481 406.742874)" style="stroke: #000000; stroke-width: 0.6"/>
</g>
</g>
</g>
<g id="ytick_73">
<g id="line2d_90">
<g>
<path d="M 0 0 L -2 0" transform="translate(42.494481 404.037704)" style="stroke: #000000; stroke-width: 0.6"/>
</g>
</g>
</g>
<g id="ytick_74">
<g id="line2d_91">
<g>
<path d="M 0 0 L -2 0" transform="translate(42.494481 401.651574)" style="stroke: #000000; stroke-width: 0.6"/>
</g>
</g>
</g>
<g id="ytick_75">
<g id="line2d_92">
<g>
<path d="M 0 0 L -2 0" transform="translate(42.494481 385.474856)" style="stroke: #000000; stroke-width: 0.6"/>
</g>
</g>
</g>
<g id="ytick_76">
<g id="line2d_93">
<g>
<path d="M 0 0 L -2 0" transform="translate(42.494481 377.260666)" style="stroke: #000000; stroke-width: 0.6"/>
</g>
</g>
</g>
<g id="ytick_77">
<g id="line2d_94">
<g>
<path d="M 0 0 L -2 0" transform="translate(42.494481 371.432604)" style="stroke: #000000; stroke-width: 0.6"/>
</g>
</g>
</g>
<g id="ytick_78">
<g id="line2d_95">
<g>
<path d="M 0 0 L -2 0" transform="translate(42.494481 366.912009)" style="stroke: #000000; stroke-width: 0.6"/>
</g>
</g>
</g>
<g id="ytick_79">
<g id="line2d_96">
<g>
<path d="M 0 0 L -2 0" transform="translate(42.494481 363.218414)" style="stroke: #000000; stroke-width: 0.6"/>
</g>
</g>
</g>
<g id="ytick_80">
<g id="line2d_97">
<g>
<path d="M 0 0 L -2 0" transform="translate(42.494481 360.095523)" style="stroke: #000000; stroke-width: 0.6"/>
</g>
</g>
</g>
<g id="ytick_81">
<g id="line2d_98">
<g>
<path d="M 0 0 L -2 0" transform="translate(42.494481 357.390353)" style="stroke: #000000; stroke-width: 0.6"/>
</g>
</g>
</g>
<g id="ytick_82">
<g id="line2d_99">
<g>
<path d="M 0 0 L -2 0" transform="translate(42.494481 355.004223)" style="stroke: #000000; stroke-width: 0.6"/>
</g>
</g>
</g>
<g id="ytick_83">
<g id="line2d_100">
<g>
<path d="M 0 0 L -2 0" transform="translate(42.494481 338.827505)" style="stroke: #000000; stroke-width: 0.6"/>
</g>
</g>
</g>
<g id="text_29">
<text style="font-size: 14px; font-family: 'DejaVu Sans', sans-serif; text-anchor: middle" x="10.282919" y="444.50883" transform="rotate(-90 10.282919 444.50883)">Avg. number of swaps</text>
</g>
</g>
<g id="line2d_101">
<path d="M 57.711218 460.154525 
L 91.526189 453.090508 
L 125.34116 461.092715 
L 159.156131 478.697572 
L 192.971102 520.309051 
L 226.786073 543.763797 
" style="fill: none; stroke: #0000ff; stroke-width: 1.7; stroke-linecap: square"/>
<g>
<path d="M 0 -3 L -0.673542 -0.927051 L -2.85317 -0.927051 L -1.089814 0.354102 L -1.763356 2.427051 L -0 1.145898 L 1.763356 2.427051 L 1.089814 0.354102 L 2.85317 -0.927051 L 0.673542 -0.927051 z" transform="translate(57.711218 460.154525)" style="fill: #0000ff; stroke: #0000ff; stroke-linejoin: bevel"/>
<path d="M 0 -3 L -0.673542 -0.927051 L -2.85317 -0.927051 L -1.089814 0.354102 L -1.763356 2.427051 L -0 1.145898 L 1.763356 2.427051 L 1.089814 0.354102 L 2.85317 -0.927051 L 0.673542 -0.927051 z" transform="translate(91.526189 453.090508)" style="fill: #0000ff; stroke: #0000ff; stroke-linejoin: bevel"/>
<path d="M 0 -3 L -0.673542 -0.927051 L -2.85317 -0.927051 L -1.089814 0.354102 L -1.763356 2.427051 L -0 1.145898 L 1.763356 2.427051 L 1.089814 0.354102 L 2.85317 -0.927051 L 0.673542 -0.927051 z" transform="translate(125.34116 461.092715)" style="fill: #0000ff; stroke: #0000ff; stroke-linejoin: bevel"/>
<path d="M 0 -3 L -0.673542 -0.927051 L -2.85317 -0.927051 L -1.089814 0.354102 L -1.763356 2.427051 L -0 1.145898 L 1.763356 2.427051 L 1.089814 0.354102 L 2.85317 -0.927051 L 0.673542 -0.927051 z" transform="translate(159.156131 478.697572)" style="fill: #0000ff; stroke: #0000ff; stroke-linejoin: bevel"/>
<path d="M 0 -3 L -0.673542 -0.927051 L -2.85317 -0.927051 L -1.089814 0.354102 L -1.763356 2.427051 L -0 1.145898 L 1.763356 2.427051 L 1.089814 0.354102 L 2.85317 -0.927051 L 0.673542 -0.927051 z" transform="translate(192.971102 520.309051)" style="fill: #0000ff; stroke: #0000ff; stroke-linejoin: bevel"/>
<path d="M 0 -3 L -0.673542 -0.927051 L -2.85317 -0.927051 L -1.089814 0.354102 L -1.763356 2.427051 L -0 1.145898 L 1.763356 2.427051 L 1.089814 0.354102 L 2.85317 -0.927051 L 0.673542 -0.927051 z" transform="translate(226.786073 543.763797)" style="fill: #0000ff; stroke: #0000ff; stroke-linejoin: bevel"/>
</g>
</g>
<g id="line2d_102">
<path d="M 57.711218 367.301325 
L 91.526189 346.38521 
L 125.34116 354.277042 
L 159.156131 369.012141 
L 192.971102 382.36755 
L 226.786073 405.822296 
L 260.601044 449.365342 
L 294.416014 474.254967 
L 328.230985 503.504415 
L 362.045956 532.533113 
" style="fill: none; stroke: #ff0000; stroke-width: 1.7; stroke-linecap: square"/>
<g>
<path d="M 0 -3.15 L -3.15 3.15 L 3.15 3.15 z" transform="translate(57.711218 367.301325)" style="fill: #ff0000; stroke: #ff0000; stroke-linejoin: miter"/>
<path d="M 0 -3.15 L -3.15 3.15 L 3.15 3.15 z" transform="translate(91.526189 346.38521)" style="fill: #ff0000; stroke: #ff0000; stroke-linejoin: miter"/>
<path d="M 0 -3.15 L -3.15 3.15 L 3.15 3.15 z" transform="translate(125.34116 354.277042)" style="fill: #ff0000; stroke: #ff0000; stroke-linejoin: miter"/>
<path d="M 0 -3.15 L -3.15 3.15 L 3.15 3.15 z" transform="translate(159.156131 369.012141)" style="fill: #ff0000; stroke: #ff0000; stroke-linejoin: miter"/>
<path d="M 0 -3.15 L -3.15 3.15 L 3.15 3.15 z" transform="translate(192.971102 382.36755)" style="fill: #ff0000; stroke: #ff0000; stroke-linejoin: miter"/>
<path d="M 0 -3.15 L -3.15 3.15 L 3.15 3.15 z" transform="translate(226.786073 405.822296)" style="fill: #ff0000; stroke: #ff0000; stroke-linejoin: miter"/>
<path d="M 0 -3.15 L -3.15 3.15 L 3.15 3.15 z" transform="translate(260.601044 449.365342)" style="fill: #ff0000; stroke: #ff0000; stroke-linejoin: miter"/>
<path d="M 0 -3.15 L -3.15 3.15 L 3.15 3.15 z" transform="translate(294.416014 474.254967)" style="fill: #ff0000; stroke: #ff0000; stroke-linejoin: miter"/>
<path d="M 0 -3.15 L -3.15 3.15 L 3.15 3.15 z" transform="translate(328.230985 503.504415)" style="fill: #ff0000; stroke: #ff0000; stroke-linejoin: miter"/>
<path d="M 0 -3.15 L -3.15 3.15 L 3.15 3.15 z" transform="translate(362.045956 532.533113)" style="fill: #ff0000; stroke: #ff0000; stroke-linejoin: miter"/>
</g>
</g>
<g id="patch_9">
<path d="M 42.494481 553.587196 
L 42.494481 336.313466 
" style="fill: none; stroke: #000000; stroke-width: 0.8; stroke-linejoin: miter; stroke-linecap: square"/>
</g>
<g id="patch_10">
<path d="M 377.262693 553.587196 
L 377.262693 336.313466 
" style="fill: none; stroke: #000000; stroke-width: 0.8; stroke-linejoin: miter; stroke-linecap: square"/>
</g>
<g id="patch_11">
<path d="M 42.494481 553.587196 
L 377.262693 553.587196 
" style="fill: none; stroke: #000000; stroke-width: 0.8; stroke-linejoin: miter; stroke-linecap: square"/>
</g>
<g id="patch_12">
<path d="M 42.494481 336.313466 
L 377.262693 336.313466 
" style="fill: none; stroke: #000000; stroke-width: 0.8; stroke-linejoin: miter; stroke-linecap: square"/>
</g>
<g id="text_30">
<g transform="translate(89.478587 330.313466)">
<text><tspan x="-1.480" y="-0.553" style="font-style: oblique; font-size: 14px; font-family: 'DejaVu Sans', sans-serif">n</tspan><tspan x="7.393" y="1.744" style="font-style: oblique; font-size: 9.8px; font-family: 'DejaVu Sans', sans-serif">ch</tspan><tspan x="22.103" y="-0.553" style="font-size: 14px; font-family: 'DejaVu Sans', sans-serif">=</tspan><tspan x="36.561" y="-0.553" style="font-size: 14px; font-family: 'DejaVu Sans', sans-serif">5,</tspan><tspan x="52.646" y="-0.553" style="font-style: oblique; font-size: 14px; font-family: 'DejaVu Sans', sans-serif">m</tspan><tspan x="66.635" y="-5.212" style="font-size: 10.5px; font-family: 'DejaVu Sans', sans-serif">★</tspan><tspan x="81.266" y="-0.553" style="font-size: 14px; font-family: 'DejaVu Sans', sans-serif">=</tspan><tspan x="95.724" y="-0.553" style="font-size: 14px; font-family: 'DejaVu Sans', sans-serif">7,</tspan><tspan x="111.809" y="-0.553" style="font-style: oblique; font-size: 14px; font-family: 'DejaVu Sans', sans-serif">p</tspan><tspan x="120.695" y="1.744" style="font-style: oblique; font-size: 9.8px; font-family: 'DejaVu Sans', sans-serif">sw</tspan><tspan x="136.927" y="-0.553" style="font-size: 14px; font-family: 'DejaVu Sans', sans-serif">=</tspan><tspan x="151.385" y="-0.553" style="font-size: 14px; font-family: 'DejaVu Sans', sans-serif">0.5,</tspan><tspan x="180.827" y="-0.553" style="font-style: oblique; font-size: 14px; font-family: 'DejaVu Sans', sans-serif">p</tspan><tspan x="189.714" y="1.744" style="font-style: oblique; font-size: 9.8px; font-family: 'DejaVu Sans', sans-serif">ℓ</tspan><tspan x="196.872" y="-0.553" style="font-size: 14px; font-family: 'DejaVu Sans', sans-serif">=</tspan><tspan x="211.330" y="-0.553" style="font-size: 14px; font-family: 'DejaVu Sans', sans-serif">0.</tspan><tspan x="223.938" y="-0.553" style="font-size: 14px; font-family: 'DejaVu Sans', sans-serif">25</tspan></text>
</g>
</g>
<g id="legend_2">
<g id="patch_13">
<path d="M 278.702693 388.612216 
L 367.462693 388.612216 
Q 370.262693 388.612216 370.262693 385.812216 
L 370.262693 346.113466 
Q 370.262693 343.313466 367.462693 343.313466 
L 278.702693 343.313466 
Q 275.902693 343.313466 275.902693 346.113466 
L 275.902693 385.812216 
Q 275.902693 388.612216 278.702693 388.612216 
z
" style="fill: #ffffff; stroke: #d2d2d2; stroke-linejoin: miter"/>
</g>
<g id="line2d_103">
<path d="M 281.502693 354.651278 
L 295.502693 354.651278 
L 309.502693 354.651278 
" style="fill: none; stroke: #0000ff; stroke-width: 1.7; stroke-linecap: square"/>
<g>
<path d="M 0 -3 L -0.673542 -0.927051 L -2.85317 -0.927051 L -1.089814 0.354102 L -1.763356 2.427051 L -0 1.145898 L 1.763356 2.427051 L 1.089814 0.354102 L 2.85317 -0.927051 L 0.673542 -0.927051 z" transform="translate(295.502693 354.651278)" style="fill: #0000ff; stroke: #0000ff; stroke-linejoin: bevel"/>
</g>
</g>
<g id="text_31">
<g transform="translate(320.702693 359.551278)">
<text><tspan x="0.000" y="-0.609" style="font-style: oblique; font-size: 14px; font-family: 'DejaVu Sans', sans-serif">n</tspan><tspan x="11.601" y="-0.609" style="font-size: 14px; font-family: 'DejaVu Sans', sans-serif">=</tspan><tspan x="26.059" y="-0.609" style="font-size: 14px; font-family: 'DejaVu Sans', sans-serif">8</tspan></text>
</g>
</g>
<g id="line2d_104">
<path d="M 281.502693 375.200653 
L 295.502693 375.200653 
L 309.502693 375.200653 
" style="fill: none; stroke: #ff0000; stroke-width: 1.7; stroke-linecap: square"/>
<g>
<path d="M 0 -3.15 L -3.15 3.15 L 3.15 3.15 z" transform="translate(295.502693 375.200653)" style="fill: #ff0000; stroke: #ff0000; stroke-linejoin: miter"/>
</g>
</g>
<g id="text_32">
<g transform="translate(320.702693 380.100653)">
<text><tspan x="0.000" y="-0.609" style="font-style: oblique; font-size: 14px; font-family: 'DejaVu Sans', sans-serif">n</tspan><tspan x="11.601" y="-0.609" style="font-size: 14px; font-family: 'DejaVu Sans', sans-serif">=</tspan><tspan x="26.059" y="-0.609" style="font-size: 14px; font-family: 'DejaVu Sans', sans-serif">12</tspan></text>
</g>
</g>
</g>
</g>
<g id="text_33">
<text class="t16" style="font-size: 16px; font-family: 'DejaVu Sans', sans-serif; text-anchor: middle" x="203.090508" y="291.942605">(a)</text>
</g>
<g id="text_34">
<text class="t16" style="font-size: 16px; font-family: 'DejaVu Sans', sans-serif; text-anchor: middle" x="203.090508" y="608.830022">(b)</text>
</g>
</g>
</svg>

</body></html>
